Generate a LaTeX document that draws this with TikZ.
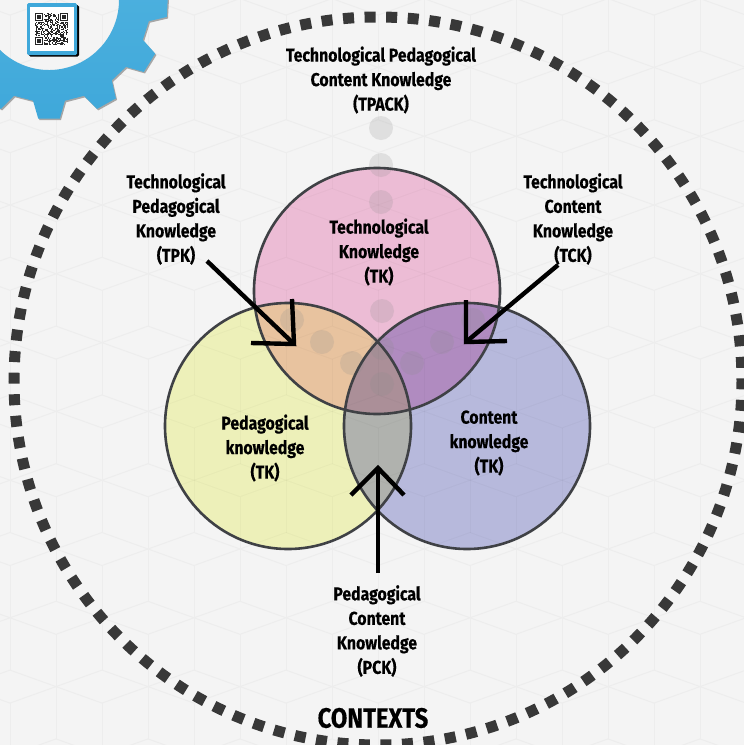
\documentclass[tikz,border=0pt]{standalone}
\usepackage{fontspec}
\setmainfont[FakeStretch=0.85,BoldFeatures={FakeBold=0.35}]{Fira Sans}
\definecolor{bgc}{HTML}{F4F4F4}
\definecolor{hexc}{HTML}{EDEDED}
\definecolor{tkc}{HTML}{ECBCD5}
\definecolor{pkc}{HTML}{EDF0B9}
\definecolor{ckc}{HTML}{B7B9DC}
\definecolor{tpc}{HTML}{E8C39F}
\definecolor{tcc}{HTML}{B08BC0}
\definecolor{pcc}{HTML}{B0B2AE}
\definecolor{allc}{HTML}{AB8F98}
\definecolor{edgec}{HTML}{3F4145}
\definecolor{gearc}{HTML}{3FA8DA}
\definecolor{gearl}{HTML}{4FB2DF}
\tikzset{
  lbl/.style={font=\bfseries\fontsize{18.6}{24.5}\selectfont, align=center, text=black, inner sep=0pt},
  setedge/.style={draw=edgec, line width=2.6pt},
  dot/.style={fill=black!45, fill opacity=.2, draw=none},
  bar/.style={line width=4.4pt, black, line join=miter},
  hexl/.style={draw=hexc, line width=1pt}
}
\newcommand{\bgpattern}[1]{%
\foreach \r in {-9,...,3}{
 \foreach \c in {-2,...,8}{
  \pgfmathsetmacro{\hx}{102+92*\c-46*mod(\r+10,2)}
  \pgfmathsetmacro{\hy}{549+68.8*\r}
  \draw[#1] (\hx-46,\hy) -- (\hx,\hy-16.5) -- (\hx+46,\hy) -- (\hx,\hy+16.5) -- cycle;
  \draw[#1] (\hx,\hy+16.5) -- +(0,104.6);
 }
}}
\begin{document}
\begin{tikzpicture}[x=1pt,y=-1pt]
\useasboundingbox (0,0) rectangle (744,745);
\fill[bgc] (0,0) rectangle (744,745);
% background lattice
\begin{scope}
\clip (0,0) rectangle (744,745);
\bgpattern{hexl}
\end{scope}
% sets
\coordinate (ct) at (377,291);
\coordinate (cp) at (288,426);
\coordinate (cc) at (467,426);
\fill[tkc] (ct) circle (123);
\fill[pkc] (cp) circle (123);
\fill[ckc] (cc) circle (123);
\begin{scope}\clip (ct) circle (123); \fill[tpc] (cp) circle (123); \fill[tcc] (cc) circle (123); \end{scope}
\begin{scope}\clip (cp) circle (123); \fill[pcc] (cc) circle (123); \end{scope}
\begin{scope}\clip (ct) circle (123); \clip (cp) circle (123); \fill[allc] (cc) circle (123); \end{scope}
% faint lattice through the sets
\begin{scope}
\clip (ct) circle (123) (cp) circle (123) (cc) circle (123);
\bgpattern{black,opacity=.025,line width=1pt}
\end{scope}
% dots
\foreach \dx/\dy in {381/128,381/165,381/202,382/311,292/320,322/342,352/363,382/348,382/384,473/320,442/342,412/363}{
  \fill[dot] (\dx,\dy) circle (12);
}
\draw[setedge] (ct) circle (123) (cp) circle (123) (cc) circle (123);
% contexts ring
\draw[draw=black!78, line width=11pt, dash pattern=on 11pt off 10.58pt, dash phase=2.7pt] (378,381) circle (364);
% gear
\begin{scope}[shift={(49,0)}]
\fill[black!35, shift={(1.2,1.5)}] (-26:102)
  \foreach \a in {3,32,61,90,119,148}{ -- (\a-9:102) -- (\a-5.2:119) -- (\a+5.2:119) -- (\a+9:102) -- (\a+20:102)} -- (168:102) -- (168:70) arc[start angle=168,end angle=-26,radius=70] -- cycle;
\shade[top color=gearl, bottom color=gearc] (-26:102)
  \foreach \a in {3,32,61,90,119,148}{ -- (\a-9:102) -- (\a-5.2:119) -- (\a+5.2:119) -- (\a+9:102) -- (\a+20:102)} -- (168:102) -- (168:70) arc[start angle=168,end angle=-26,radius=70] -- cycle;
\end{scope}
% QR badge
\fill[black, rounded corners=1.5pt] (29,5) rectangle (79,56.5);
\fill[gearc, rounded corners=1.5pt] (27,3) rectangle (77,55);
\fill[white] (30,7) rectangle (74,51);
\pgfmathsetseed{11}
\foreach \i in {0,...,28}{
 \foreach \j in {0,...,28}{
  \pgfmathrandominteger{\qv}{0}{1}
  \ifnum\qv=1
   \fill[black!85] ({35+1.15*\i},{13+1.12*\j}) rectangle +(1.15,1.12);
  \fi
 }
}
\foreach \qx/\qy in {35/13,60/13,35/37}{
  \fill[white] (\qx-1,\qy-1) rectangle +(9.5,9.5);
  \fill[black!85] (\qx,\qy) rectangle +(8,8);
  \fill[white] (\qx+1.2,\qy+1.2) rectangle +(5.6,5.6);
  \fill[black!85] (\qx+2.4,\qy+2.4) rectangle +(3.2,3.2);
}
% labels
\node[lbl] (tpack) at (381,80) {Technological Pedagogical\\Content Knowledge\\(TPACK)};
\node[lbl] (tk) at (379,252) {Technological\\Knowledge\\(TK)};
\node[lbl] (tpk) at (176,219) {Technological\\Pedagogical\\Knowledge\\(TPK)};
\node[lbl] (tck) at (573,219) {Technological\\Content\\Knowledge\\(TCK)};
\node[lbl] (pk) at (265,448) {Pedagogical\\knowledge\\(TK)};
\node[lbl] (ck) at (489,443) {Content\\knowledge\\(TK)};
\node[lbl] (pck) at (377,631) {Pedagogical\\Content\\Knowledge\\(PCK)};
\node[lbl, font=\bfseries\fontsize{28}{30}\selectfont] (ctx) at (373,718) {CONTEXTS};
% arrows
\coordinate (a1s) at (207,261); \coordinate (a1e) at (294,344);
\coordinate (a1b) at (292,299); \coordinate (a1c) at (251,343);
\coordinate (a2s) at (558,265); \coordinate (a2e) at (466,342);
\coordinate (a2b) at (466,300); \coordinate (a2c) at (507,341);
\coordinate (a3s) at (378,573); \coordinate (a3e) at (378,468);
\coordinate (a3b) at (351,495); \coordinate (a3c) at (404,495);
\draw[bar] (a1s) -- (a1e);
\draw[bar] (a1b) -- (a1e) -- (a1c);
\draw[bar] (a2s) -- (a2e);
\draw[bar] (a2b) -- (a2e) -- (a2c);
\draw[bar] (a3s) -- (a3e);
\draw[bar] (a3b) -- (a3e) -- (a3c);
\end{tikzpicture}
\end{document}
